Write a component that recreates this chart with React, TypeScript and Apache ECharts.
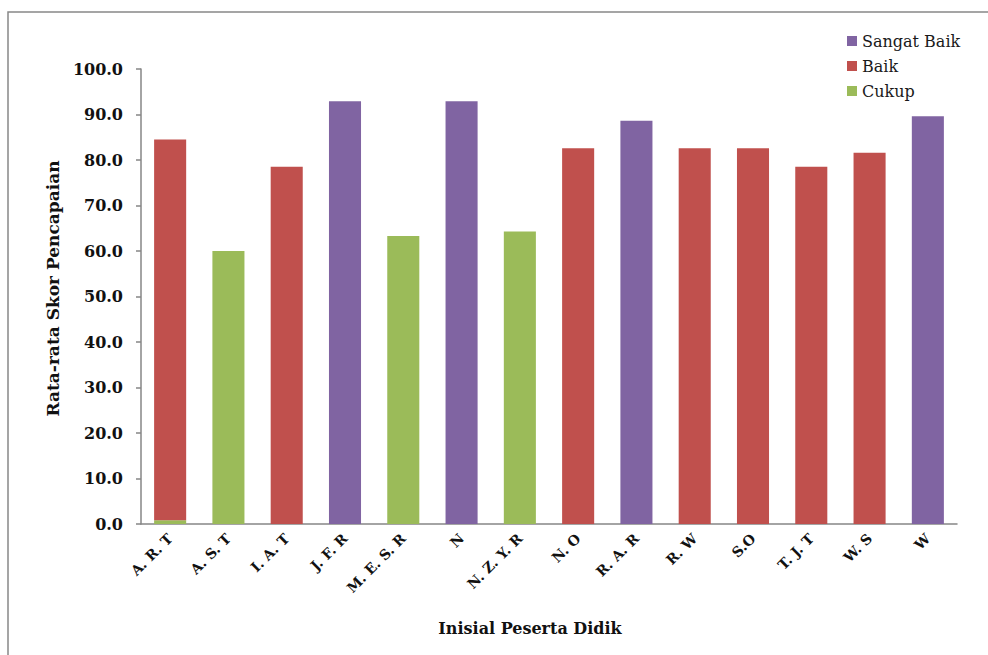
import React, { useEffect, useRef } from "react";
import * as echarts from "echarts";

// Inisial peserta didik
const students = [
  "A. R. T", "A. S. T", "I. A. T", "J. F. R", "M. E. S. R", "N", "N. Z. Y. R",
  "N. O", "R. A. R", "R. W", "S.O", "T. J. T", "W. S", "W",
];

// Rata-rata skor per kategori (bertumpuk: Cukup di bawah, lalu Baik, lalu Sangat Baik)
const cukup = [0.8, 60.0, null, null, 63.3, null, 64.3, null, null, null, null, null, null, null];
const baik = [83.7, null, 78.5, null, null, null, null, 82.6, null, 82.6, 82.6, 78.5, 81.6, null];
const sangatBaik = [null, null, null, 92.9, null, 92.9, null, null, 88.6, null, null, null, null, 89.6];

const legendOrder = ["Sangat Baik", "Baik", "Cukup"];

const SERIF = "DejaVu Serif";

export default function App() {
  const ref = useRef<HTMLDivElement>(null);

  useEffect(() => {
    if (!ref.current) return;
    const chart = echarts.init(ref.current, null, { renderer: "svg" });
    const axisColor = "#868686";
    const legendText = { fontFamily: SERIF, fontSize: 16, color: "#1a1a1a" };
    chart.setOption({
      animation: false,
      backgroundColor: "#ffffff",
      textStyle: { fontFamily: SERIF },
      graphic: [
        {
          type: "rect",
          shape: { x: 8, y: 12, width: 1000, height: 700 },
          style: { fill: "none", stroke: "#888888", lineWidth: 1.5 },
          silent: true,
        },
      ],
      legend: {
        data: legendOrder.map((name) => ({ name, textStyle: legendText })),
        orient: "vertical",
        left: 842,
        top: 28,
        itemWidth: 10,
        itemHeight: 10,
        itemGap: 9,
        icon: "rect",
        formatter: (name: string) => `{t|${name}}`,
        textStyle: { ...legendText, rich: { t: legendText } },
      },
      grid: { left: 141, right: 31, top: 69, bottom: 131 },
      xAxis: {
        type: "category",
        data: students,
        name: "Inisial Peserta Didik",
        nameLocation: "middle",
        nameGap: 96,
        nameTextStyle: {
          fontFamily: SERIF,
          fontSize: 16,
          fontWeight: "bold",
          color: "#111",
          padding: [0, 38, 0, 0],
        },
        axisLine: { lineStyle: { color: axisColor, width: 1.5 } },
        axisTick: { length: 5, lineStyle: { color: axisColor, width: 1.5 } },
        axisLabel: {
          rotate: 45,
          interval: 0,
          margin: 12,
          fontFamily: SERIF,
          fontSize: 14,
          fontWeight: "bold",
          color: "#111",
        },
      },
      yAxis: {
        type: "value",
        min: 0,
        max: 100,
        interval: 10,
        name: "Rata-rata Skor Pencapaian",
        nameLocation: "middle",
        nameGap: 67,
        nameRotate: 90,
        nameTextStyle: {
          fontFamily: SERIF,
          fontSize: 17,
          fontWeight: "bold",
          color: "#111",
          padding: [0, 0, 0, 16],
        },
        axisLine: { show: true, lineStyle: { color: axisColor, width: 1.5 } },
        axisTick: { show: true, length: 5, lineStyle: { color: axisColor, width: 1.5 } },
        splitLine: { show: false },
        axisLabel: {
          margin: 18,
          fontFamily: SERIF,
          fontSize: 16,
          fontWeight: "bold",
          color: "#111",
          formatter: (v: number) => v.toFixed(1),
        },
      },
      series: [
        {
          name: "Cukup",
          type: "bar",
          stack: "skor",
          barWidth: "55%",
          data: cukup,
          itemStyle: { color: "#9BBB59" },
        },
        {
          name: "Baik",
          type: "bar",
          stack: "skor",
          barWidth: "55%",
          data: baik,
          itemStyle: { color: "#C0504D" },
        },
        {
          name: "Sangat Baik",
          type: "bar",
          stack: "skor",
          barWidth: "55%",
          data: sangatBaik,
          itemStyle: { color: "#8064A2" },
        },
      ],
    });
    return () => chart.dispose();
  }, []);

  return (
    <div
      ref={ref}
      style={{ position: "fixed", left: 0, top: 0, width: 988, height: 655 }}
    />
  );
}
